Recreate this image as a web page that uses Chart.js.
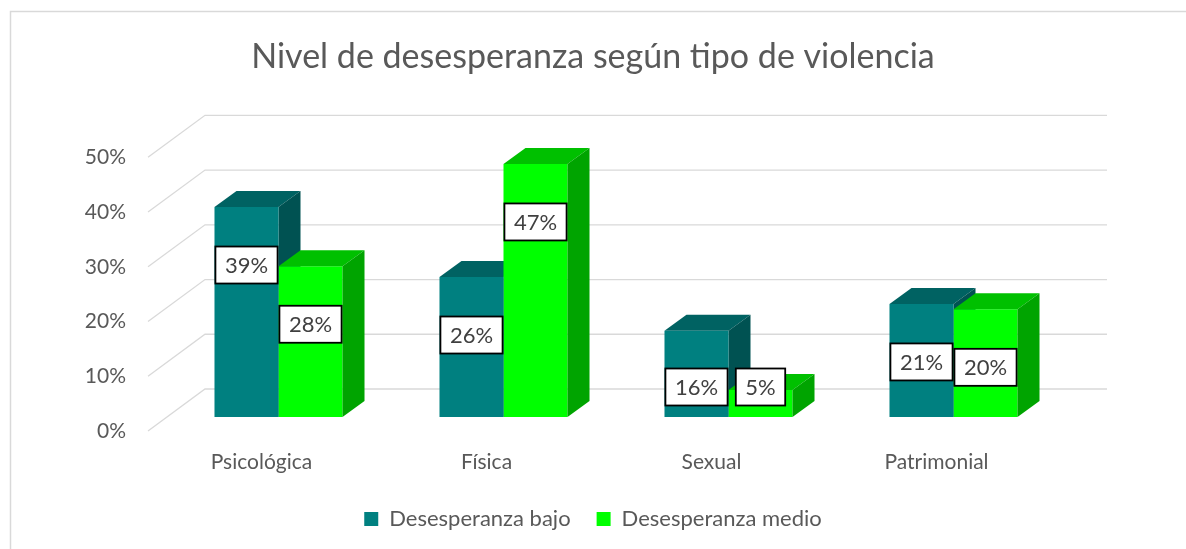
<!DOCTYPE html>
<html>
<head>
<meta charset="utf-8">
<script src="https://cdn.jsdelivr.net/npm/chart.js@4/dist/chart.umd.min.js"></script>
<style>
  body { margin: 0; background: #fff; }
</style>
</head>
<body>
<canvas id="chart" width="1186" height="549"></canvas>
<script>
const categories = ['Psicológica', 'Física', 'Sexual', 'Patrimonial']
const bajo = [39, 26, 16, 21]
const medio = [28, 47, 5, 20]
const seriesNames = ['Desesperanza bajo', 'Desesperanza medio']
const yTicks = [0, 10, 20, 30, 40, 50]
const TITLE = 'Nivel de desesperanza según tipo de violencia'

const FONT = 'Lato'
const TEXT = '#595959'
const DX = 22, DY = 16

// top and side colours for the fake 3d boxes
const faces = [
    {top: '#006262', side: '#005252'},
    {top: '#00c000', side: '#00a400'}
]

function drawBox3d(ctx, bar, f)
{
    var l = bar.x - bar.width / 2, r = bar.x + bar.width / 2
    var t = bar.y, b = bar.base
    ctx.fillStyle = f.top
    ctx.beginPath()
    ctx.moveTo(l, t); ctx.lineTo(r, t); ctx.lineTo(r + DX, t - DY); ctx.lineTo(l + DX, t - DY)
    ctx.closePath(); ctx.fill()
    ctx.fillStyle = f.side
    ctx.beginPath()
    ctx.moveTo(r, t); ctx.lineTo(r + DX, t - DY); ctx.lineTo(r + DX, b - DY); ctx.lineTo(r, b)
    ctx.closePath(); ctx.fill()
}

const plot3d = {
    id: 'plot3d',
    beforeDraw(chart) {
        var ctx = chart.ctx
        ctx.save()
        ctx.fillStyle = '#fff'
        ctx.fillRect(0, 0, chart.width, chart.height)
        ctx.strokeStyle = '#d9d9d9'
        ctx.lineWidth = 1.5
        ctx.strokeRect(10.5, 11.5, 1300, 700)
        ctx.restore()
    },
    beforeDatasetsDraw(chart) {
        var ctx = chart.ctx
        var s = chart.scales.yGrid
        ctx.save()
        ctx.strokeStyle = '#d9d9d9'
        ctx.lineWidth = 1.3
        yTicks.forEach(v => {
            var y = s.getPixelForValue(v)
            ctx.beginPath()
            ctx.moveTo(148, y)
            ctx.lineTo(205, y - 42)
            ctx.lineTo(1107, y - 42)
            ctx.stroke()
        })
        chart.getDatasetMeta(0).data.forEach(bar => drawBox3d(ctx, bar, faces[0]))
        ctx.restore()
    },
    afterDatasetsDraw(chart) {
        var ctx = chart.ctx
        ctx.save()
        chart.getDatasetMeta(1).data.forEach(bar => drawBox3d(ctx, bar, faces[1]))

        ctx.font = '22px ' + FONT
        ctx.textAlign = 'center'
        ctx.textBaseline = 'middle'
        chart.data.datasets.forEach((ds, i) => {
            chart.getDatasetMeta(i).data.forEach((bar, j) => {
                var txt = ds.data[j] + '%'
                var w = ctx.measureText(txt).width + 19
                var h = 37
                var cy = Math.min(bar.y + 58, bar.base - 30)
                ctx.fillStyle = '#fff'
                ctx.fillRect(bar.x - w / 2, cy - h / 2, w, h)
                ctx.strokeStyle = '#000'
                ctx.lineWidth = 1.8
                ctx.strokeRect(bar.x - w / 2, cy - h / 2, w, h)
                ctx.fillStyle = '#404040'
                ctx.fillText(txt, bar.x, cy + 1)
            })
        })
        ctx.restore()
    }
}

new Chart(document.getElementById('chart'), {
    type: 'bar',
    data: {
        labels: categories,
        datasets: [
            {label: seriesNames[0], data: bajo, backgroundColor: '#008080', yAxisID: 'y'},
            {label: seriesNames[1], data: medio, backgroundColor: '#00ff00', yAxisID: 'y'}
        ]
    },
    options: {
        responsive: false,
        animation: false,
        categoryPercentage: 0.569,
        barPercentage: 1,
        layout: {padding: {left: 0, right: 0, top: 0, bottom: 9}},
        plugins: {
            title: {
                display: true,
                text: TITLE,
                color: TEXT,
                font: {family: FONT, size: 34, weight: 'normal'},
                padding: {top: 37, bottom: 70}
            },
            legend: {
                position: 'bottom',
                labels: {
                    color: TEXT,
                    font: {family: FONT, size: 22},
                    boxWidth: 14,
                    boxHeight: 14,
                    padding: 26
                }
            },
            tooltip: {enabled: false}
        },
        scales: {
            x: {
                grid: {display: false, drawTicks: false},
                border: {display: false},
                ticks: {color: TEXT, font: {family: FONT, size: 21}, padding: 33, labelOffset: -17},
                afterFit: s => { s.height = 65 }
            },
            y: {
                position: 'right',
                min: 0,
                max: 50,
                grid: {display: false, drawTicks: false},
                border: {display: false},
                ticks: {display: false},
                afterFit: s => { s.width = 120 }
            },
            yGrid: {
                position: 'left',
                bounds: 'data',
                min: 14 / 5.47,
                max: (431 - 148) / 5.47,
                grid: {display: false, drawTicks: false},
                border: {display: false},
                afterBuildTicks: s => { s.ticks = yTicks.map(v => ({value: v})) },
                ticks: {color: TEXT, font: {family: FONT, size: 21}, padding: 40, callback: v => v + '%'},
                afterFit: s => { s.width = 166 }
            }
        }
    },
    plugins: [plot3d]
})
</script>
</body>
</html>
